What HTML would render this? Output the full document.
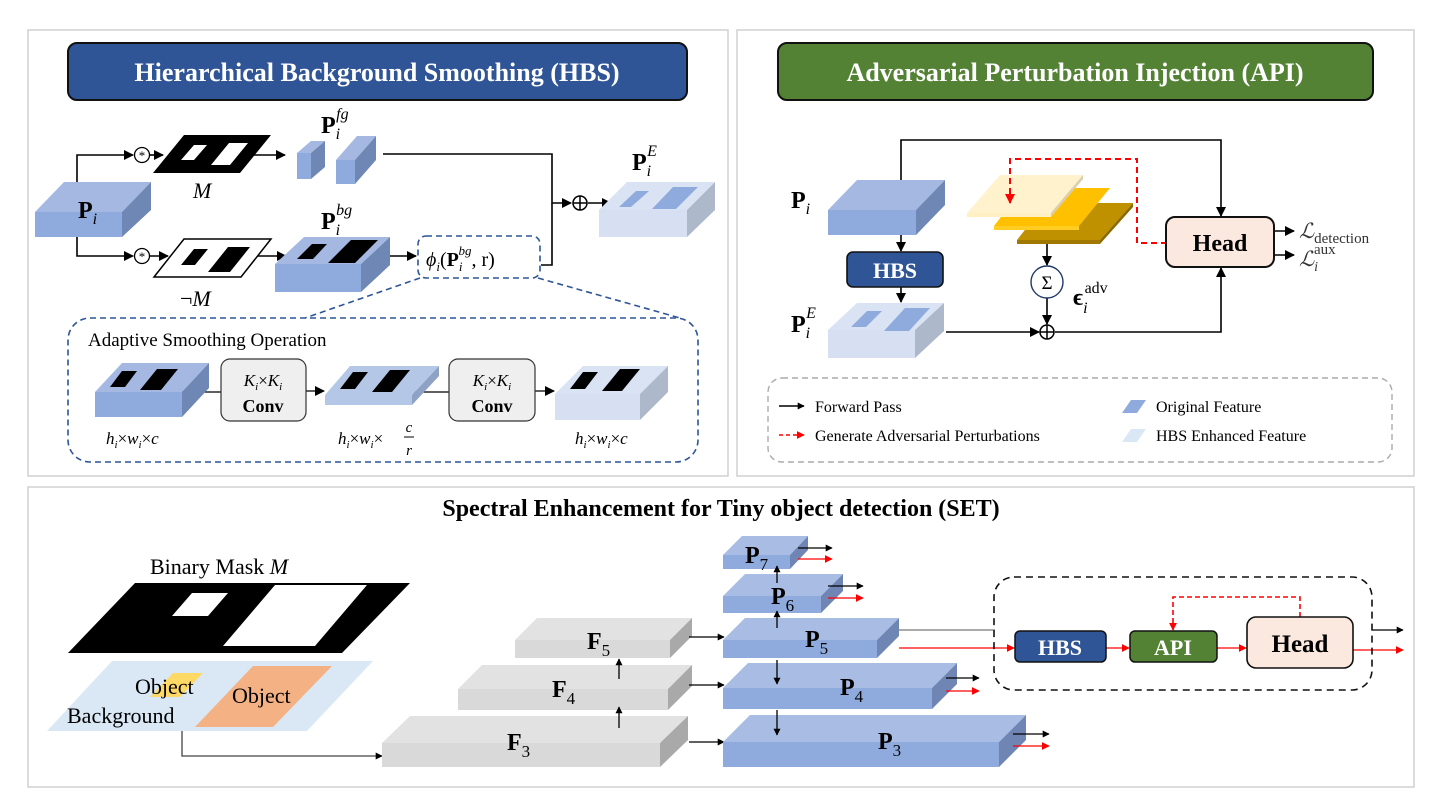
<!DOCTYPE html>
<html><head><meta charset="utf-8"><style>
html,body{margin:0;padding:0;background:#fff}
svg{display:block;font-family:"Liberation Serif",serif}
</style></head><body>
<svg width="1446" height="804" viewBox="0 0 1446 804" xmlns="http://www.w3.org/2000/svg">
<defs>
<marker id="ab" viewBox="0 0 10 10" refX="9" refY="5" markerWidth="7" markerHeight="7" orient="auto" markerUnits="userSpaceOnUse"><path d="M0,0L10,5L0,10z" fill="#000"/></marker>
<marker id="ar" viewBox="0 0 10 10" refX="9" refY="5" markerWidth="8" markerHeight="8" orient="auto" markerUnits="userSpaceOnUse"><path d="M0,0L10,5L0,10z" fill="#f00"/></marker>
<marker id="abs" viewBox="0 0 10 10" refX="9" refY="5" markerWidth="10" markerHeight="10" orient="auto" markerUnits="userSpaceOnUse"><path d="M0,0L10,5L0,10z" fill="#000"/></marker>
<marker id="ars" viewBox="0 0 10 10" refX="9" refY="5" markerWidth="10" markerHeight="10" orient="auto" markerUnits="userSpaceOnUse"><path d="M0,0L10,5L0,10z" fill="#f00"/></marker>
</defs>
<rect width="1446" height="804" fill="#fff"/>
<!-- panels -->
<rect x="28" y="30" width="700" height="446" fill="none" stroke="#d0d0d0" stroke-width="1.5"/>
<rect x="737" y="30" width="677" height="446" fill="none" stroke="#d0d0d0" stroke-width="1.5"/>
<rect x="28" y="487" width="1386" height="300" fill="none" stroke="#d0d0d0" stroke-width="1.5"/>

<!-- titles -->
<rect x="68" y="43" width="619" height="57" rx="9" fill="#2f5597" stroke="#111" stroke-width="2"/>
<text x="377" y="81" text-anchor="middle" font-size="26" font-weight="bold" fill="#fff">Hierarchical Background Smoothing (HBS)</text>
<rect x="778" y="43" width="595" height="57" rx="9" fill="#548235" stroke="#111" stroke-width="2"/>
<text x="1075" y="81" text-anchor="middle" font-size="26" font-weight="bold" fill="#fff">Adversarial Perturbation Injection (API)</text>

<!-- ===== HBS panel ===== -->
<g stroke="#000" stroke-width="1.6" fill="none">
<polyline points="77,182 77,155 133,155" marker-end="url(#abs)"/>
<line x1="150" y1="155" x2="163" y2="155" marker-end="url(#abs)"/>
<line x1="245" y1="155" x2="285" y2="155" marker-end="url(#abs)"/>
<polyline points="77,237 77,256 133,256" marker-end="url(#abs)"/>
<line x1="150" y1="256" x2="168" y2="256" marker-end="url(#abs)"/>
<line x1="255" y1="256" x2="286" y2="256" marker-end="url(#abs)"/>
<line x1="390" y1="256" x2="416" y2="256" marker-end="url(#abs)"/>
<polyline points="383,154 552,154 552,203 571,203" marker-end="url(#abs)"/>
<polyline points="541,265 552,265 552,203"/>
<line x1="588" y1="203" x2="611" y2="203" marker-end="url(#abs)"/>
</g>
<circle cx="142" cy="155" r="7.5" fill="#fff" stroke="#000" stroke-width="1.3"/>
<text x="142" y="160" text-anchor="middle" font-size="13">*</text>
<circle cx="142" cy="256" r="7.5" fill="#fff" stroke="#000" stroke-width="1.3"/>
<text x="142" y="261" text-anchor="middle" font-size="13">*</text>
<circle cx="580" cy="203" r="7" fill="#fff" stroke="#000" stroke-width="1.5"/>
<path d="M573,203H587M580,196V210" stroke="#000" stroke-width="1.5"/>

<!-- Pi box -->
<polygon points="35,212 64,182 151,182 122,212" fill="#a4b8e2"/>
<polygon points="122,212 151,182 151,210 122,237" fill="#6f87b5"/>
<rect x="35" y="212" width="87" height="25" fill="#8faadc"/>
<text x="78" y="218" font-size="24" font-weight="bold">P<tspan font-size="16" font-style="italic" font-weight="normal" dy="6">i</tspan></text>

<!-- Mask M -->
<polygon points="153,173 184,135 271,135 240,173" fill="#000"/>
<polygon points="181,160 194,145 207,145 194,160" fill="#fff"/>
<polygon points="211,165 229,143 248,143 230,165" fill="#fff"/>
<text x="193" y="198" font-size="22" font-style="italic">M</text>

<!-- not M -->
<polygon points="154,277 184,239 271,239 241,277" fill="#fff" stroke="#000" stroke-width="1.5"/>
<polygon points="181,265 194,249 208,249 195,265" fill="#000"/>
<polygon points="208,272 228,247 250,247 230,272" fill="#000"/>
<text x="180" y="306" font-size="22">¬<tspan font-style="italic">M</tspan></text>

<!-- Pfg boxes -->
<polygon points="297,153 311,141 325,141 311,153" fill="#a4b8e2"/>
<polygon points="311,153 325,141 325,167 311,179" fill="#6f87b5"/>
<rect x="297" y="153" width="14" height="26" fill="#8faadc"/>
<polygon points="336,160 357,136 376,136 355,160" fill="#a4b8e2"/>
<polygon points="355,160 376,136 376,160 355,184" fill="#6f87b5"/>
<rect x="336" y="160" width="19" height="24" fill="#8faadc"/>
<text x="321" y="133" font-size="24" font-weight="bold">P<tspan font-size="16" font-style="italic" font-weight="normal" dy="6">i</tspan><tspan font-size="16" font-style="italic" font-weight="normal" dx="-4" dy="-20">fg</tspan></text>

<!-- Pbg box -->
<polygon points="275,264 304,237 390,237 361,264" fill="#a4b8e2"/>
<polygon points="361,264 390,237 390,265 361,292" fill="#6f87b5"/>
<rect x="275" y="264" width="86" height="28" fill="#8faadc"/>
<polygon points="297,259 312,244 327,244 313,259" fill="#000"/>
<polygon points="328,263 351,240 378,240 355,263" fill="#000"/>
<text x="321" y="229" font-size="24" font-weight="bold">P<tspan font-size="16" font-style="italic" font-weight="normal" dy="6">i</tspan><tspan font-size="16" font-style="italic" font-weight="normal" dx="-4" dy="-20">bg</tspan></text>

<!-- phi box -->
<rect x="418" y="236" width="122" height="42" rx="8" fill="#fff" stroke="#2f5597" stroke-width="1.6" stroke-dasharray="6,4"/>
<text x="426" y="266" font-size="20"><tspan font-style="italic">ϕ</tspan><tspan font-size="13" font-style="italic" dy="5">i</tspan><tspan dy="-5">(</tspan><tspan font-weight="bold">P</tspan><tspan font-size="13" font-style="italic" dy="5">i</tspan><tspan font-size="13" font-style="italic" dx="-4" dy="-16">bg</tspan><tspan dy="11">, r)</tspan></text>

<!-- PiE box -->
<polygon points="599,210 627,182 715,182 687,210" fill="#dae3f3"/>
<polygon points="687,210 715,182 715,210 687,237" fill="#adb9ca"/>
<rect x="599" y="210" width="88" height="27" fill="#d6e0f2"/>
<polygon points="619,207 636,191 649,191 631,207" fill="#8faadc"/>
<polygon points="652,209 673,187 698,187 676,209" fill="#8faadc"/>
<text x="632" y="170" font-size="24" font-weight="bold">P<tspan font-size="16" font-style="italic" font-weight="normal" dy="6">i</tspan><tspan font-size="16" font-style="italic" font-weight="normal" dx="-4" dy="-20">E</tspan></text>

<!-- adaptive smoothing -->
<g stroke="#2f5597" stroke-width="1.6" stroke-dasharray="6,4" fill="none">
<line x1="420" y1="278" x2="305" y2="318"/>
<line x1="538" y1="278" x2="680" y2="318"/>
<rect x="68" y="318" width="630" height="144" rx="22"/>
</g>
<text x="88" y="346" font-size="19">Adaptive Smoothing Operation</text>
<g stroke="#000" stroke-width="1.3">
<line x1="182" y1="392" x2="221" y2="392"/>
<line x1="306" y1="391" x2="324" y2="391" marker-end="url(#abs)"/>
<line x1="412" y1="392" x2="449" y2="392"/>
<line x1="535" y1="391" x2="554" y2="391" marker-end="url(#abs)"/>
</g>
<polygon points="95,392 122,363 209,363 182,392" fill="#a4b8e2"/>
<polygon points="182,392 209,363 209,388 182,417" fill="#6f87b5"/>
<rect x="95" y="392" width="87" height="25" fill="#8faadc"/>
<polygon points="110,387 122,371 137,371 125,387" fill="#000"/>
<polygon points="140,390 157,369 178,369 161,390" fill="#000"/>

<polygon points="325,395 350,366 439,366 412,395" fill="#b4c7e7"/>
<polygon points="412,395 439,366 439,376 412,405" fill="#8ea2c6"/>
<rect x="325" y="395" width="87" height="10" fill="#b4c7e7"/>
<polygon points="340,389 353,372 368,372 355,389" fill="#000"/>
<polygon points="372,392 390,370 410,370 392,392" fill="#000"/>

<polygon points="555,394 583,366 668,366 640,394" fill="#dae3f3"/>
<polygon points="640,394 668,366 668,392 640,420" fill="#adb9ca"/>
<rect x="555" y="394" width="85" height="26" fill="#d6e0f2"/>
<polygon points="570,389 583,372 598,372 585,389" fill="#000"/>
<polygon points="602,391 620,369 640,369 622,391" fill="#000"/>

<rect x="221" y="359" width="85" height="62" rx="9" fill="#efefef" stroke="#333" stroke-width="1.2"/>
<text x="263" y="386" text-anchor="middle" font-size="17" font-style="italic">K<tspan font-size="11" dy="4">i</tspan><tspan font-style="normal" dy="-4">×</tspan>K<tspan font-size="11" dy="4">i</tspan></text>
<text x="263" y="412" text-anchor="middle" font-size="18" font-weight="bold">Conv</text>
<rect x="449" y="359" width="86" height="62" rx="9" fill="#efefef" stroke="#333" stroke-width="1.2"/>
<text x="492" y="386" text-anchor="middle" font-size="17" font-style="italic">K<tspan font-size="11" dy="4">i</tspan><tspan font-style="normal" dy="-4">×</tspan>K<tspan font-size="11" dy="4">i</tspan></text>
<text x="492" y="412" text-anchor="middle" font-size="18" font-weight="bold">Conv</text>

<text x="106" y="444" font-size="17" font-style="italic">h<tspan font-size="11" dy="4">i</tspan><tspan font-style="normal" dy="-4">×</tspan>w<tspan font-size="11" dy="4">i</tspan><tspan font-style="normal" dy="-4">×</tspan>c</text>
<text x="338" y="444" font-size="17" font-style="italic">h<tspan font-size="11" dy="4">i</tspan><tspan font-style="normal" dy="-4">×</tspan>w<tspan font-size="11" dy="4">i</tspan><tspan font-style="normal" dy="-4">×</tspan></text>
<text x="409" y="432" font-size="15" font-style="italic" text-anchor="middle">c</text>
<line x1="404" y1="437" x2="414" y2="437" stroke="#000" stroke-width="1"/>
<text x="409" y="455" font-size="15" font-style="italic" text-anchor="middle">r</text>
<text x="575" y="444" font-size="17" font-style="italic">h<tspan font-size="11" dy="4">i</tspan><tspan font-style="normal" dy="-4">×</tspan>w<tspan font-size="11" dy="4">i</tspan><tspan font-style="normal" dy="-4">×</tspan>c</text>

<!-- ===== API panel ===== -->
<g stroke="#000" stroke-width="1.6" fill="none">
<polyline points="901,180 901,140 1221,140 1221,216" marker-end="url(#abs)"/>
<line x1="901" y1="235" x2="901" y2="251" marker-end="url(#abs)"/>
<line x1="901" y1="287" x2="901" y2="302" marker-end="url(#abs)"/>
<line x1="946" y1="332" x2="1039" y2="332" marker-end="url(#abs)"/>
<polyline points="1055,332 1221,332 1221,268" marker-end="url(#abs)"/>
<line x1="1047" y1="240" x2="1047" y2="265" marker-end="url(#abs)"/>
<line x1="1047" y1="298" x2="1047" y2="324" marker-end="url(#abs)"/>
<line x1="1259" y1="231" x2="1294" y2="231" marker-end="url(#abs)"/>
<line x1="1259" y1="255" x2="1294" y2="255" marker-end="url(#abs)"/>
</g>
<polygon points="828,210 857,180 945,180 916,210" fill="#a4b8e2"/>
<polygon points="916,210 945,180 945,205 916,235" fill="#6f87b5"/>
<rect x="828" y="210" width="88" height="25" fill="#8faadc"/>
<text x="791" y="208" font-size="24" font-weight="bold">P<tspan font-size="16" font-style="italic" font-weight="normal" dy="6">i</tspan></text>

<rect x="847" y="252" width="96" height="35" rx="6" fill="#2f5597" stroke="#111" stroke-width="1.6"/>
<text x="895" y="278" text-anchor="middle" font-size="22" font-weight="bold" fill="#fff">HBS</text>

<polygon points="828,330 857,303 944,303 915,330" fill="#dae3f3"/>
<polygon points="915,330 944,303 944,331 915,358" fill="#adb9ca"/>
<rect x="828" y="330" width="87" height="28" fill="#d6e0f2"/>
<polygon points="851,327 867,311 882,311 866,327" fill="#8faadc"/>
<polygon points="884,331 905,308 930,308 909,331" fill="#8faadc"/>
<text x="791" y="332" font-size="24" font-weight="bold">P<tspan font-size="16" font-style="italic" font-weight="normal" dy="6">i</tspan><tspan font-size="16" font-style="italic" font-weight="normal" dx="-4" dy="-20">E</tspan></text>

<!-- layers -->
<polygon points="1017,240 1046,203 1133,203 1100,240" fill="#bf9000"/>
<polygon points="1100,240 1133,203 1133,207 1100,244" fill="#8c6a00"/>
<rect x="1017" y="240" width="83" height="4" fill="#a07800"/>
<polygon points="994,226 1023,188 1110,188 1079,226" fill="#ffc000"/>
<rect x="994" y="226" width="85" height="4" fill="#ffcc22"/>
<polygon points="967,213 1000,175 1083,175 1051,213" fill="#fff2cc"/>
<polygon points="1051,213 1083,175 1083,179 1051,217" fill="#d9cfae"/>
<rect x="967" y="213" width="84" height="4" fill="#fff0c4"/>

<circle cx="1047" cy="282" r="16" fill="#fff" stroke="#1f3864" stroke-width="1.4"/>
<text x="1047" y="289" text-anchor="middle" font-size="19">Σ</text>
<circle cx="1047" cy="332" r="7" fill="#fff" stroke="#000" stroke-width="1.5"/>
<path d="M1040,332H1054M1047,325V339" stroke="#000" stroke-width="1.5"/>
<text x="1073" y="305" font-size="24" font-weight="bold">ϵ<tspan font-size="16" font-style="italic" font-weight="normal" dy="8">i</tspan><tspan font-size="16" font-weight="normal" dx="-3" dy="-20">adv</tspan></text>

<polyline points="1167,243 1137,243 1137,159 1010,159 1010,203" fill="none" stroke="#f00" stroke-width="2" stroke-dasharray="6,4" marker-end="url(#ars)"/>

<rect x="1166" y="217" width="108" height="50" rx="9" fill="#fbe9e0" stroke="#111" stroke-width="2"/>
<text x="1220" y="251" text-anchor="middle" font-size="24" font-weight="bold">Head</text>
<text x="1299" y="238" font-size="21" fill="#333" font-style="italic">ℒ<tspan font-size="15" font-style="normal" dy="5">detection</tspan></text>
<text x="1299" y="266" font-size="21" fill="#333" font-style="italic">ℒ<tspan font-size="14" dy="5">i</tspan><tspan font-size="15" font-style="normal" dx="-4" dy="-17">aux</tspan></text>

<!-- legend -->
<rect x="768" y="378" width="624" height="84" rx="14" fill="none" stroke="#aaa" stroke-width="1.4" stroke-dasharray="6,4"/>
<line x1="779" y1="406" x2="804" y2="406" stroke="#000" stroke-width="1.6" marker-end="url(#ab)"/>
<text x="815" y="412" font-size="16">Forward Pass</text>
<line x1="779" y1="435" x2="804" y2="435" stroke="#f00" stroke-width="1.6" stroke-dasharray="4,3" marker-end="url(#ar)"/>
<text x="815" y="441" font-size="16">Generate Adversarial Perturbations</text>
<polygon points="1122,413 1131,400 1146,400 1137,413" fill="#8faadc"/>
<text x="1156" y="412" font-size="16">Original Feature</text>
<polygon points="1122,442 1131,429 1146,429 1137,442" fill="#dae8f6"/>
<text x="1156" y="441" font-size="16">HBS Enhanced Feature</text>

<!-- ===== SET panel ===== -->
<text x="721" y="516" text-anchor="middle" font-size="24" font-weight="bold">Spectral Enhancement for Tiny object detection (SET)</text>
<text x="150" y="574" font-size="22">Binary Mask <tspan font-style="italic">M</tspan></text>
<polygon points="68,653 135,583 410,583 342,653" fill="#000"/>
<polygon points="172,616 192,593 228,593 208,616" fill="#fff"/>
<polygon points="223,646 275,585 367,585 315,646" fill="#fff"/>
<polygon points="47,731 112,661 373,661 307,731" fill="#dae8f6"/>
<polygon points="195,727 253,666 332,666 273,727" fill="#f4b183"/>
<polygon points="150,697 173,673 203,673 180,697" fill="#ffd966"/>
<text x="135" y="694" font-size="22">Object</text>
<text x="232" y="703" font-size="22">Object</text>
<text x="67" y="723" font-size="22">Background</text>
<polyline points="182,731 182,756 382,756" fill="none" stroke="#444" stroke-width="1.3" marker-end="url(#ab)"/>

<!-- F boxes -->
<polygon points="382,743 410,716 688,716 660,743" fill="#e2e2e2"/>
<polygon points="660,743 688,716 688,740 660,767" fill="#a9a9a9"/>
<rect x="382" y="743" width="278" height="24" fill="#d9d9d9"/>
<polygon points="458,689 482,665 692,665 668,689" fill="#e2e2e2"/>
<polygon points="668,689 692,665 692,686 668,710" fill="#a9a9a9"/>
<rect x="458" y="689" width="210" height="21" fill="#d9d9d9"/>
<polygon points="515,640 537,618 692,618 670,640" fill="#e2e2e2"/>
<polygon points="670,640 692,618 692,636 670,658" fill="#a9a9a9"/>
<rect x="515" y="640" width="155" height="18" fill="#d9d9d9"/>
<text x="507" y="750" font-size="24" font-weight="bold">F<tspan font-size="17" font-weight="normal" dy="7">3</tspan></text>
<text x="552" y="697" font-size="24" font-weight="bold">F<tspan font-size="17" font-weight="normal" dy="7">4</tspan></text>
<text x="587" y="649" font-size="24" font-weight="bold">F<tspan font-size="17" font-weight="normal" dy="7">5</tspan></text>
<g stroke="#000" stroke-width="1.3">
<line x1="619" y1="728" x2="619" y2="707" marker-end="url(#ab)"/>
<line x1="619" y1="679" x2="619" y2="659" marker-end="url(#ab)"/>
<line x1="689" y1="742" x2="724" y2="742" marker-end="url(#ab)"/>
<line x1="689" y1="685" x2="724" y2="685" marker-end="url(#ab)"/>
<line x1="689" y1="637" x2="724" y2="637" marker-end="url(#ab)"/>
</g>

<!-- P boxes -->
<polygon points="723,742 750,715 1026,715 999,742" fill="#a9bce3"/>
<polygon points="999,742 1026,715 1026,740 999,767" fill="#6f86b5"/>
<rect x="723" y="742" width="276" height="25" fill="#8faadc"/>
<polygon points="723,688 748,663 957,663 932,688" fill="#a9bce3"/>
<polygon points="932,688 957,663 957,684 932,709" fill="#6f86b5"/>
<rect x="723" y="688" width="209" height="21" fill="#8faadc"/>
<polygon points="723,640 745,618 899,618 877,640" fill="#a9bce3"/>
<polygon points="877,640 899,618 899,636 877,658" fill="#6f86b5"/>
<rect x="723" y="640" width="154" height="18" fill="#8faadc"/>
<polygon points="723,596 745,574 843,574 821,596" fill="#a9bce3"/>
<polygon points="821,596 843,574 843,591 821,613" fill="#6f86b5"/>
<rect x="723" y="596" width="98" height="17" fill="#8faadc"/>
<polygon points="723,555 742,536 808,536 790,555" fill="#a9bce3"/>
<polygon points="790,555 808,536 808,550 790,569" fill="#6f86b5"/>
<rect x="723" y="555" width="67" height="14" fill="#8faadc"/>
<text x="878" y="749" font-size="24" font-weight="bold">P<tspan font-size="17" font-weight="normal" dy="7">3</tspan></text>
<text x="840" y="695" font-size="24" font-weight="bold">P<tspan font-size="17" font-weight="normal" dy="7">4</tspan></text>
<text x="805" y="647" font-size="24" font-weight="bold">P<tspan font-size="17" font-weight="normal" dy="7">5</tspan></text>
<text x="771" y="604" font-size="24" font-weight="bold">P<tspan font-size="17" font-weight="normal" dy="7">6</tspan></text>
<text x="745" y="563" font-size="24" font-weight="bold">P<tspan font-size="17" font-weight="normal" dy="7">7</tspan></text>
<g stroke="#000" stroke-width="1.3">
<line x1="777" y1="583" x2="777" y2="566" marker-end="url(#ab)"/>
<line x1="777" y1="628" x2="777" y2="611" marker-end="url(#ab)"/>
<line x1="777" y1="660" x2="777" y2="684" marker-end="url(#ab)"/>
<line x1="777" y1="710" x2="777" y2="735" marker-end="url(#ab)"/>
<line x1="798" y1="548" x2="832" y2="548" marker-end="url(#ab)"/>
<line x1="828" y1="586" x2="863" y2="586" marker-end="url(#ab)"/>
<line x1="946" y1="678" x2="979" y2="678" marker-end="url(#ab)"/>
<line x1="1013" y1="734" x2="1049" y2="734" marker-end="url(#ab)"/>
<line x1="1372" y1="630" x2="1403" y2="630" marker-end="url(#ab)"/>
</g>
<line x1="899" y1="630" x2="995" y2="630" stroke="#777" stroke-width="1.2"/>
<g stroke="#f00" stroke-width="1.3">
<line x1="798" y1="559" x2="832" y2="559" marker-end="url(#ar)"/>
<line x1="828" y1="598" x2="863" y2="598" marker-end="url(#ar)"/>
<line x1="946" y1="691" x2="979" y2="691" marker-end="url(#ar)"/>
<line x1="1013" y1="746" x2="1049" y2="746" marker-end="url(#ar)"/>
<line x1="899" y1="648" x2="1014" y2="648" marker-end="url(#ar)"/>
<line x1="1106" y1="648" x2="1129" y2="648" marker-end="url(#ar)"/>
<line x1="1217" y1="648" x2="1246" y2="648" marker-end="url(#ar)"/>
<line x1="1353" y1="650" x2="1403" y2="650" marker-end="url(#ar)"/>
</g>
<rect x="994" y="577" width="378" height="113" rx="20" fill="none" stroke="#111" stroke-width="1.6" stroke-dasharray="7,5"/>
<polyline points="1300,617 1300,597 1173,597 1173,630" fill="none" stroke="#f00" stroke-width="1.6" stroke-dasharray="5,3" marker-end="url(#ar)"/>
<rect x="1015" y="631" width="91" height="31" rx="5" fill="#2f5597" stroke="#111" stroke-width="1.5"/>
<text x="1060" y="655" text-anchor="middle" font-size="22" font-weight="bold" fill="#fff">HBS</text>
<rect x="1130" y="631" width="87" height="31" rx="5" fill="#548235" stroke="#111" stroke-width="1.5"/>
<text x="1173" y="655" text-anchor="middle" font-size="22" font-weight="bold" fill="#fff">API</text>
<rect x="1247" y="617" width="106" height="51" rx="9" fill="#fbe9e0" stroke="#111" stroke-width="1.6"/>
<text x="1300" y="652" text-anchor="middle" font-size="25" font-weight="bold">Head</text>
</svg>
</body></html>
